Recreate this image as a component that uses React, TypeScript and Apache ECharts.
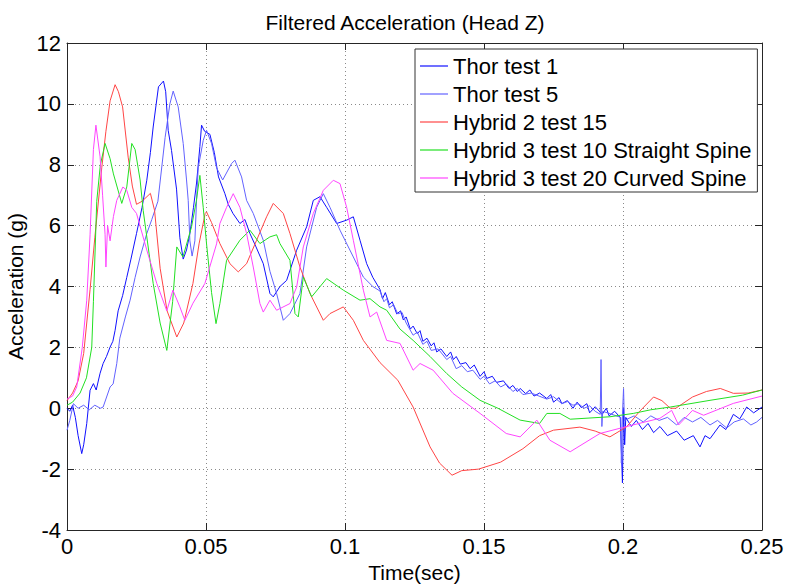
import React, { useEffect, useRef } from "react";
import * as echarts from "echarts";

const seriesNames = [
  "Thor test 1",
  "Thor test 5",
  "Hybrid 2 test 15",
  "Hybrid 3 test 10 Straight Spine",
  "Hybrid 3 test 20 Curved Spine",
];
const seriesColors = ["#1010ff", "#6262ff", "#ff4545", "#22e022", "#ff45ff"];

const xTicks = [0, 0.05, 0.1, 0.15, 0.2, 0.25];
const yTicks = [-4, -2, 0, 2, 4, 6, 8, 10, 12];

const thor1: [number, number][] = [
  [0, 0.0], [0.001, -0.1], [0.002, 0.1], [0.003, -0.3], [0.004, -0.9], [0.0053, -1.49], [0.006, -1.2],
  [0.0071, -0.5], [0.0083, 0.59], [0.0095, 0.81], [0.0105, 0.6], [0.0119, 1.15], [0.013, 1.47],
  [0.0142, 1.7], [0.0155, 2.01], [0.0165, 2.2], [0.0173, 2.56], [0.0184, 3.2], [0.02, 3.7], [0.0215, 4.3], [0.023, 4.9],
  [0.025, 5.74], [0.027, 6.6], [0.0287, 7.49], [0.03, 8.4], [0.031, 9.24], [0.0329, 10.56], [0.0347, 10.75],
  [0.0355, 10.4], [0.0364, 9.13], [0.0376, 8.47], [0.0394, 7.2], [0.0406, 5.6], [0.0418, 4.9], [0.043, 5.2],
  [0.0442, 5.74], [0.0455, 6.6], [0.0466, 7.4], [0.0478, 8.6], [0.0484, 9.3], [0.0495, 9.1], [0.0514, 9.0],
  [0.053, 8.4], [0.0545, 7.6], [0.0568, 7.05], [0.058, 6.7], [0.0597, 6.4], [0.0622, 6.07], [0.064, 6.2], [0.0658, 5.74],
  [0.068, 5.3], [0.0706, 4.75], [0.073, 3.77], [0.0742, 3.66], [0.0766, 4.0], [0.079, 4.2], [0.0826, 5.19],
  [0.0862, 5.96], [0.0886, 6.83], [0.091, 6.95], [0.0934, 6.6], [0.097, 6.07], [0.1006, 6.18], [0.103, 6.29],
  [0.1054, 5.52], [0.1078, 4.75], [0.11, 4.3], [0.1126, 3.9], [0.1135, 3.6], [0.1145, 3.8], [0.116, 3.4],
  [0.117, 3.5], [0.1186, 3.1], [0.12, 3.2], [0.121, 2.9], [0.122, 3.0], [0.1235, 2.6], [0.1245, 2.7],
  [0.126, 2.45], [0.127, 2.55], [0.128, 2.2], [0.1295, 2.3], [0.131, 2.05], [0.132, 2.15], [0.133, 1.85],
  [0.1345, 1.95], [0.1366, 1.7], [0.138, 1.85], [0.139, 1.6], [0.14, 1.7], [0.1415, 1.45], [0.1435, 1.5],
  [0.145, 1.3], [0.1465, 1.42], [0.1486, 1.05], [0.15, 1.2], [0.151, 0.98], [0.153, 1.05], [0.1545, 0.85],
  [0.157, 0.9], [0.159, 0.65], [0.1604, 0.75], [0.162, 0.55], [0.163, 0.65], [0.165, 0.48], [0.1665, 0.6],
  [0.168, 0.4], [0.17, 0.5], [0.1726, 0.32], [0.174, 0.45], [0.175, 0.2], [0.177, 0.35], [0.178, 0.15],
  [0.18, 0.25], [0.182, 0.0], [0.1835, 0.2], [0.185, 0.02], [0.187, 0.15], [0.188, -0.15], [0.19, 0.05],
  [0.1925, -0.2], [0.194, 0.0], [0.195, -0.25], [0.197, -0.1], [0.199, -0.3], [0.1998, -2.45], [0.2002, 0.0],
  [0.2006, -1.2], [0.201, -0.3], [0.203, -0.6], [0.2048, -0.4], [0.207, -0.7], [0.209, -0.5], [0.211, -0.8],
  [0.2133, -0.6], [0.216, -0.9], [0.2193, -0.75], [0.222, -1.05], [0.2253, -0.9], [0.2277, -1.27],
  [0.2295, -0.9], [0.2313, -1.0], [0.2349, -0.55], [0.237, -0.7], [0.2397, -0.2], [0.242, -0.35],
  [0.2445, 0.04], [0.247, -0.15], [0.25, 0.04],
];

const thor5: [number, number][] = [
  [0, -0.72], [0.001, -0.4], [0.0023, 0.15], [0.004, 0.0], [0.006, 0.1], [0.008, -0.05], [0.01, 0.1],
  [0.012, 0.0], [0.013, 0.04], [0.0155, 0.7], [0.0166, 0.8], [0.0179, 1.47], [0.019, 2.3], [0.021, 3.0],
  [0.0227, 3.55], [0.0245, 4.3], [0.0263, 4.97], [0.0287, 5.74], [0.0305, 6.2], [0.0327, 6.8], [0.0353, 8.9],
  [0.037, 10.0], [0.0382, 10.42], [0.04, 9.9], [0.0418, 8.7], [0.043, 7.5], [0.0436, 6.83], [0.0442, 5.5],
  [0.045, 5.0], [0.046, 5.5], [0.0466, 6.83], [0.0472, 7.9], [0.049, 8.8], [0.0502, 9.13], [0.052, 8.7],
  [0.0538, 7.9], [0.056, 7.5], [0.0592, 8.04], [0.0604, 8.15], [0.0628, 7.6], [0.0646, 6.83], [0.067, 6.4],
  [0.0706, 5.52], [0.073, 4.5], [0.0754, 3.77], [0.0778, 2.89], [0.0802, 3.11], [0.0838, 3.77], [0.0862, 5.3],
  [0.0898, 6.6], [0.0922, 7.05], [0.0946, 6.6], [0.0982, 5.85], [0.103, 4.97], [0.1066, 4.31], [0.11, 4.0],
  [0.1126, 3.85], [0.114, 3.5], [0.115, 3.6], [0.116, 3.3], [0.1175, 3.4], [0.119, 3.1], [0.1205, 3.15],
  [0.122, 2.8], [0.1245, 2.4], [0.126, 2.5], [0.128, 2.1], [0.1295, 2.2], [0.131, 1.9], [0.1335, 1.95],
  [0.1366, 1.6], [0.138, 1.7], [0.14, 1.3], [0.142, 1.4], [0.144, 1.2], [0.146, 1.25], [0.1486, 0.95],
  [0.15, 1.05], [0.152, 0.8], [0.154, 0.9], [0.156, 0.7], [0.158, 0.8], [0.1604, 0.55], [0.162, 0.65],
  [0.164, 0.45], [0.167, 0.5], [0.1726, 0.3], [0.175, 0.38], [0.178, 0.15], [0.18, 0.22], [0.182, 0.1],
  [0.184, 0.15], [0.186, 0.0], [0.188, 0.08], [0.19, -0.1], [0.1918, -0.2], [0.1921, 1.6], [0.1924, -0.6],
  [0.1927, -0.1], [0.196, -0.2], [0.1992, -0.3], [0.1994, -1.8], [0.1998, -0.2], [0.2002, 0.65],
  [0.2005, -0.4], [0.204, -0.25], [0.2073, -0.45], [0.21, -0.25], [0.213, -0.4], [0.216, -0.3],
  [0.2193, -0.55], [0.222, -0.3], [0.225, -0.45], [0.228, -0.3], [0.2313, -0.55], [0.234, -0.4],
  [0.2373, -0.65], [0.24, -0.45], [0.2433, -0.35], [0.246, -0.55], [0.2481, -0.45], [0.25, -0.3],
];

const hybrid2: [number, number][] = [
  [0, 0.25], [0.002, 0.5], [0.004, 0.9], [0.006, 1.8], [0.0083, 3.9], [0.01, 5.6], [0.0125, 7.9], [0.014, 9.1],
  [0.0155, 10.1], [0.0173, 10.63], [0.0185, 10.4], [0.02, 9.9], [0.022, 8.25], [0.0235, 7.3], [0.025, 6.7],
  [0.027, 6.8], [0.03, 7.06], [0.0315, 6.5], [0.0335, 4.6], [0.036, 3.2], [0.0395, 2.34], [0.042, 2.8],
  [0.0453, 4.1], [0.0475, 5.4], [0.0497, 6.4], [0.0502, 6.45], [0.052, 6.1], [0.055, 5.41], [0.0586, 4.75],
  [0.0616, 4.48], [0.0646, 4.75], [0.0682, 5.52], [0.0718, 6.29], [0.0742, 6.73], [0.0778, 6.4], [0.0802, 5.74],
  [0.0838, 4.64], [0.0874, 3.77], [0.0922, 2.89], [0.0946, 3.11], [0.0994, 3.33], [0.103, 2.89], [0.1066, 2.23],
  [0.1126, 1.5], [0.119, 0.92], [0.1245, 0.04], [0.1306, -1.27], [0.134, -1.8], [0.1385, -2.2], [0.142, -2.05],
  [0.148, -2.0], [0.156, -1.77], [0.164, -1.33], [0.17, -0.9], [0.175, -0.72], [0.1845, -0.62], [0.19, -0.75],
  [0.1953, -0.94], [0.2013, -0.61], [0.206, -0.1], [0.211, 0.37], [0.214, 0.25], [0.217, 0.0], [0.219, 0.0],
  [0.225, 0.37], [0.23, 0.55], [0.235, 0.65], [0.2397, 0.49], [0.245, 0.5], [0.25, 0.6],
];

const hybrid3Straight: [number, number][] = [
  [0, 0.1], [0.002, 0.2], [0.0047, 0.5], [0.007, 1.0], [0.0089, 2.0], [0.0095, 3.5], [0.0107, 6.8], [0.012, 8.0],
  [0.0137, 8.7], [0.0155, 8.2], [0.0167, 7.7], [0.0197, 6.73], [0.0215, 7.27], [0.0233, 8.7], [0.0245, 8.5],
  [0.0263, 7.5], [0.0274, 6.5], [0.031, 4.1], [0.0335, 2.8], [0.0359, 1.9], [0.038, 3.5], [0.0395, 5.3],
  [0.0417, 4.97], [0.0448, 5.96], [0.0465, 6.8], [0.0478, 7.65], [0.049, 6.6], [0.0502, 5.4], [0.052, 3.8],
  [0.0536, 2.78], [0.055, 3.44], [0.0574, 4.86], [0.0622, 5.52], [0.0658, 5.85], [0.0694, 5.41], [0.073, 5.63],
  [0.0754, 5.7], [0.0766, 5.41], [0.0802, 4.86], [0.082, 3.11], [0.0832, 3.0], [0.085, 4.31], [0.088, 3.66],
  [0.0934, 4.26], [0.0994, 3.88], [0.1054, 3.55], [0.109, 3.6], [0.1126, 3.33], [0.115, 3.22], [0.1198, 2.6],
  [0.1245, 2.23], [0.1306, 1.7], [0.1366, 1.14], [0.142, 0.7], [0.1486, 0.26], [0.155, 0.0], [0.163, -0.39],
  [0.17, -0.5], [0.1726, -0.17], [0.1773, -0.17], [0.181, -0.36], [0.1953, -0.28], [0.2037, -0.17],
  [0.21, -0.05], [0.217, 0.04], [0.2313, 0.26], [0.243, 0.43], [0.25, 0.6],
];

const hybrid3Curved: [number, number][] = [
  [0, 0.3], [0.002, 0.4], [0.0035, 0.7], [0.0055, 2.0], [0.0071, 3.55], [0.0083, 5.7], [0.0095, 8.5],
  [0.0104, 9.3], [0.0119, 8.26], [0.0128, 7.0], [0.0137, 5.7], [0.014, 4.64], [0.0146, 6.0], [0.0155, 5.5],
  [0.0167, 6.3], [0.0179, 6.83], [0.0201, 7.27], [0.0215, 7.16], [0.0233, 6.6], [0.025, 6.4], [0.0287, 5.2],
  [0.0323, 4.1], [0.0359, 3.2], [0.0381, 3.88], [0.0406, 3.33], [0.0424, 2.89], [0.0453, 3.45], [0.0496, 4.1],
  [0.0538, 5.4], [0.055, 6.07], [0.0574, 6.6], [0.0598, 7.05], [0.0622, 6.6], [0.0646, 5.74], [0.067, 4.64],
  [0.0694, 3.44], [0.0706, 3.16], [0.073, 3.55], [0.0754, 3.22], [0.0802, 3.44], [0.0826, 3.98], [0.085, 5.3],
  [0.0886, 6.4], [0.0922, 7.16], [0.0958, 7.49], [0.0982, 7.38], [0.1006, 6.6], [0.103, 5.52], [0.1066, 3.88],
  [0.109, 3.0], [0.1114, 3.16], [0.115, 2.23], [0.1198, 2.13], [0.1245, 1.25], [0.127, 1.47], [0.1317, 1.25],
  [0.1388, 0.49], [0.1486, -0.17], [0.158, -0.83], [0.163, -0.94], [0.169, -0.39], [0.1737, -1.05],
  [0.181, -1.43], [0.1917, -0.83], [0.2013, -0.6], [0.2133, -0.33], [0.2175, -0.07], [0.22, -0.55],
  [0.225, -0.07], [0.229, -0.23], [0.2397, 0.16], [0.25, 0.4],
];

const allData = [thor1, thor5, hybrid2, hybrid3Straight, hybrid3Curved];

const FONT = "'Liberation Sans', Arial, Helvetica, sans-serif";

export default function App() {
  const ref = useRef<HTMLDivElement>(null);
  useEffect(() => {
    document.body.style.margin = "0";
    const chart = echarts.init(ref.current!, null, { renderer: "svg" });
    const fmt = (v: number) => String(+v.toFixed(2));
    const axisLineStyle = { color: "#262626", width: 1 };
    const gridLine = { show: true, lineStyle: { color: "#8a8a8a", type: [1, 3] as any, width: 1 } };
    chart.setOption({
      animation: false,
      backgroundColor: "#ffffff",
      title: {
        text: "Filtered Acceleration (Head Z)",
        left: 400,
        top: 7,
        textAlign: "center",
        textStyle: { fontFamily: FONT, fontSize: 21, fontWeight: "normal", color: "#000" },
      },
      legend: {
        orient: "vertical",
        left: 415,
        top: 49,
        padding: [6, 6, 3, 5],
        itemWidth: 28,
        itemHeight: 1.2,
        itemGap: 6,
        icon: "rect",
        backgroundColor: "#ffffff",
        borderColor: "#333333",
        borderWidth: 1,
        borderRadius: 0,
        textStyle: { fontFamily: FONT, fontSize: 22, color: "#000" },
        data: seriesNames,
      },
      grid: { left: 67, right: 26, top: 43, bottom: 54, containLabel: false, outerBoundsMode: "none" },
      xAxis: [
        {
          type: "value",
          min: xTicks[0],
          max: xTicks[xTicks.length - 1],
          interval: 0.05,
          name: "Time(sec)",
          nameLocation: "middle",
          nameGap: 26,
          nameTextStyle: { fontFamily: FONT, fontSize: 21, color: "#000" },
          axisLine: { show: true, onZero: false, lineStyle: axisLineStyle },
          axisTick: { show: true, inside: true, length: 7, lineStyle: axisLineStyle },
          axisLabel: { fontFamily: FONT, fontSize: 22, color: "#000", margin: 5, formatter: fmt },
          splitLine: gridLine,
        },
        {
          type: "value",
          position: "top",
          min: xTicks[0],
          max: xTicks[xTicks.length - 1],
          interval: 0.05,
          axisLine: { show: true, onZero: false, lineStyle: axisLineStyle },
          axisTick: { show: true, inside: true, length: 7, lineStyle: axisLineStyle },
          axisLabel: { show: false },
          splitLine: { show: false },
        },
      ],
      yAxis: [
        {
          type: "value",
          min: yTicks[0],
          max: yTicks[yTicks.length - 1],
          interval: 2,
          name: "Acceleration (g)",
          nameLocation: "middle",
          nameGap: 32,
          nameTextStyle: { fontFamily: FONT, fontSize: 21, color: "#000" },
          axisLine: { show: true, onZero: false, lineStyle: axisLineStyle },
          axisTick: { show: true, inside: true, length: 7, lineStyle: axisLineStyle },
          axisLabel: { fontFamily: FONT, fontSize: 22, color: "#000", margin: 6 },
          splitLine: gridLine,
        },
        {
          type: "value",
          position: "right",
          min: yTicks[0],
          max: yTicks[yTicks.length - 1],
          interval: 2,
          axisLine: { show: true, onZero: false, lineStyle: axisLineStyle },
          axisTick: { show: true, inside: true, length: 7, lineStyle: axisLineStyle },
          axisLabel: { show: false },
          splitLine: { show: false },
        },
      ],
      series: allData.map((d, i) => ({
        name: seriesNames[i],
        type: "line",
        xAxisIndex: 0,
        yAxisIndex: 0,
        data: d,
        symbol: "none",
        showSymbol: false,
        lineStyle: { color: seriesColors[i], width: 1 },
        itemStyle: { color: seriesColors[i] },
        emphasis: { disabled: true },
      })),
    });
    return () => chart.dispose();
  }, []);
  return <div ref={ref} style={{ width: 788, height: 584 }} />;
}
